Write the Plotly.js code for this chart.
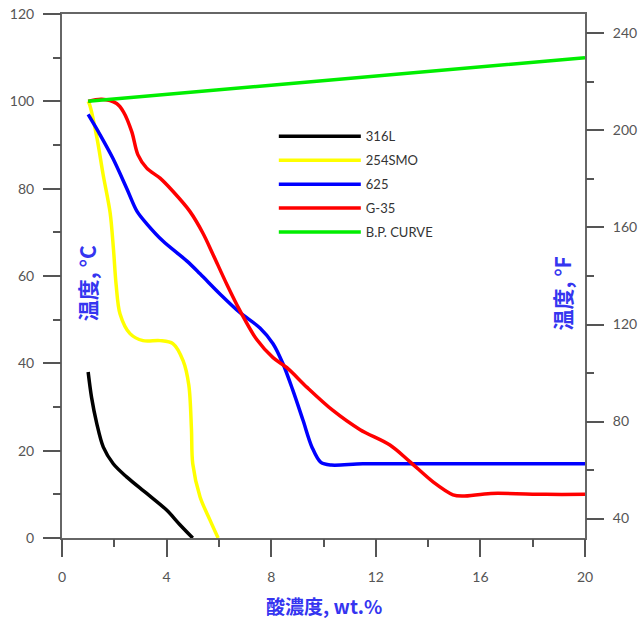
<!DOCTYPE html>
<html>
<head>
<meta charset="utf-8">
<script src="https://cdn.plot.ly/plotly-3.0.1.min.js"></script>
<style>html,body{margin:0;padding:0;background:#fff;}#chart{width:640px;height:619px;}</style>
</head>
<body>
<div id="chart"></div>
<script>
// Series names
const seriesNames = ["316L", "254SMO", "625", "G-35", "B.P. CURVE"];

// 316L
const x316L = [1.0, 1.13, 1.33, 1.58, 1.96, 2.47, 3.24, 4.0, 4.5, 5.0];
const y316L = [38, 32.2, 26.2, 20.8, 17, 14, 10.2, 6.4, 3.1, 0];

// 254SMO
const x254 = [1.0, 1.07, 1.34, 1.57, 1.84, 1.97, 2.07, 2.22, 2.6, 3.1, 3.75, 4.24, 4.63, 4.85, 4.95, 5.0, 5.28, 5.66, 5.97];
const y254 = [100, 99, 91.5, 83.3, 74.5, 66, 58, 51.3, 46.8, 45.2, 45.2, 44.5, 40.6, 35, 25, 17, 9.4, 4.1, 0];

// 625
const x625 = [1.0, 1.45, 1.95, 2.48, 2.87, 3.25, 3.86, 4.78, 5.28, 6.04, 6.81, 7.57, 8.07, 8.45, 8.83, 9.22, 9.56, 9.9, 10.3, 11.5, 14, 17, 20];
const y625 = [97, 92.4, 86.9, 80, 74.8, 71.9, 68, 63.4, 60.5, 55.9, 51.6, 48.1, 44.5, 39.9, 33.8, 26.9, 20.8, 17.3, 16.7, 17, 17, 17, 17];

// G-35
const xG35 = [1.0, 1.52, 2.09, 2.35, 2.67, 2.9, 3.24, 3.75, 4.24, 4.89, 5.39, 5.77, 6.31, 6.81, 7.44, 8.07, 8.6, 9.37, 10.36, 11.4, 12.54, 13.3, 14.2, 14.95, 15.3, 16.4, 18.5, 20];
const yG35 = [100, 100.5, 99.5, 97.6, 93, 87.8, 84.7, 82.4, 79.4, 74.8, 69.8, 65, 58, 52, 45.5, 41.3, 39, 34.5, 29.2, 24.8, 21.3, 17.5, 12.8, 9.9, 9.6, 10.2, 10, 10];

// B.P. curve
const xBP = [1, 8, 20];
const yBP = [100, 103.7, 110];

// Axis ranges
const xRange = [0, 20];
const yRange = [0, 120];
const y2Range = [32, 248];

const colors = ["#000000", "#ffff00", "#0000ff", "#ff0000", "#00ee00"];
const xs = [x316L, x254, x625, xG35, xBP];
const ys = [y316L, y254, y625, yG35, yBP];

const traces = seriesNames.map((n, i) => ({
  type: "scatter", mode: "lines", name: n,
  x: xs[i], y: ys[i], legendgroup: "g" + i,
  line: {color: colors[i], width: 3.5, shape: "spline", smoothing: 0.9}
}));
// invisible helper traces so that the extra axes are drawn
const helper = (xa, ya) => ({type: "scatter", mode: "lines", x: [10], y: [60], xaxis: xa, yaxis: ya,
  showlegend: false, hoverinfo: "skip", opacity: 0, line: {width: 0}});
traces.unshift(helper("x", "y2"), helper("x2", "y3"), helper("x", "y4"));

const tickFont = {family: "Lato, 'Open Sans', sans-serif", size: 14, color: "#555"};
const axisCommon = {
  showgrid: false, zeroline: false, showline: true, linecolor: "#666", linewidth: 2,
  ticks: "outside", ticklen: 17, tickwidth: 2, tickcolor: "#555", tickfont: tickFont
};
const minorAxis = {showgrid: false, zeroline: false, showline: false, showticklabels: false,
  ticks: "outside", ticklen: 8, tickwidth: 2, tickcolor: "#555"};

const layout = {
  width: 640, height: 619,
  margin: {l: 62, r: 55, t: 14, b: 81},
  paper_bgcolor: "#fff", plot_bgcolor: "#fff",
  showlegend: true,
  legend: {x: 0.405, y: 0.795, xanchor: "left", yanchor: "top", itemwidth: 82, tracegroupgap: 4,
           font: {family: "Lato, 'Open Sans', sans-serif", size: 13, color: "#333"}, bgcolor: "rgba(0,0,0,0)"},
  xaxis: Object.assign({}, axisCommon, {range: xRange, tick0: 0, dtick: 4, mirror: true, ticklabelstandoff: 8}),
  xaxis2: Object.assign({}, minorAxis, {range: xRange, tick0: 0, dtick: 2, overlaying: "x", side: "bottom", anchor: "y"}),
  yaxis: Object.assign({}, axisCommon, {range: yRange, tick0: 0, dtick: 20, ticklabelstandoff: 6}),
  yaxis2: Object.assign({}, axisCommon, {range: y2Range, overlaying: "y", side: "right", tick0: 40, dtick: 40, ticklabelstandoff: 6}),
  yaxis3: Object.assign({}, minorAxis, {range: yRange, tick0: 0, dtick: 10, overlaying: "y", side: "left", anchor: "x"}),
  yaxis4: Object.assign({}, minorAxis, {range: y2Range, tick0: 40, dtick: 20, overlaying: "y", side: "right", anchor: "x"}),
  annotations: [
    {text: "<b>酸濃度, wt.%</b>", xref: "paper", yref: "paper", x: 0.5, y: -0.128, xanchor: "center", yanchor: "middle", showarrow: false,
     font: {family: "'Noto Sans CJK JP', sans-serif", size: 19, color: "#3535f0"}},
    {text: "<b>温度, °C</b>", xref: "paper", yref: "paper", x: (87 - 62) / 523, y: (524 - 276) / 510, xanchor: "center", yanchor: "middle", textangle: -90, showarrow: false,
     font: {family: "'Noto Sans CJK JP', sans-serif", size: 21, color: "#3535f0"}},
    {text: "<b>温度, °F</b>", xref: "paper", yref: "paper", x: (562 - 62) / 523, y: (524 - 286) / 510, xanchor: "center", yanchor: "middle", textangle: -90, showarrow: false,
     font: {family: "'Noto Sans CJK JP', sans-serif", size: 21, color: "#3535f0"}}
  ]
};

Plotly.newPlot("chart", traces, layout, {staticPlot: true, displayModeBar: false});
</script>
</body>
</html>
